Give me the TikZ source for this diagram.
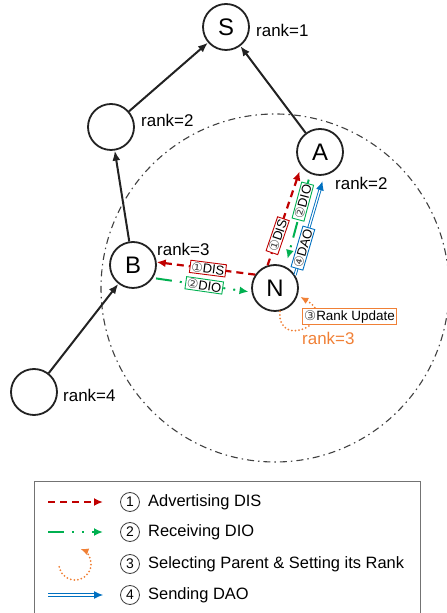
\documentclass[tikz,border=0pt]{standalone}
\usepackage{fontspec}
\setmainfont{Liberation Sans}
\newfontfamily\symfont{DejaVu Sans}
\usetikzlibrary{arrows.meta,calc}

\definecolor{disred}{HTML}{C00000}
\definecolor{diogreen}{HTML}{00B050}
\definecolor{daoblue}{HTML}{0070C0}
\definecolor{updorange}{HTML}{F08036}
\definecolor{ink}{HTML}{222222}

% circled step numbers used inside the message tags
\newcommand{\cnum}[1]{{\symfont\color{black!70}\ifcase#1\or ①\or ②\or ③\or ④\fi}}

\begin{document}
\begin{tikzpicture}[x=1bp,y=1bp,
  rpl/.style={circle,draw=ink,fill=white,line width=1.8bp,minimum size=46bp,inner sep=0pt,font=\fontsize{24}{24}\selectfont},
  ranklab/.style={anchor=west,inner sep=0pt,font=\fontsize{17}{17}\selectfont},
  tree/.style={draw=ink,line width=2bp,-{Latex[length=10bp,width=8bp]}},
  dis/.style={draw=disred,line width=2.2bp,dash pattern=on 7bp off 5bp,-{Latex[length=9bp,width=8bp]}},
  dio/.style={draw=diogreen,line width=2bp,dash pattern=on 16bp off 8bp on 2bp off 8bp on 2bp off 8bp,-{Latex[length=9bp,width=8bp]}},
  dao/.style={draw=daoblue,line width=0.9bp,double=white,double distance=1.3bp,-{Latex[length=9bp,width=8bp]}},
  upd/.style={draw=updorange,line width=2bp,dash pattern=on 0bp off 3.6bp,line cap=round,-{Latex[length=8bp,width=7bp]}},
  tag/.style={draw=#1,fill=white,solid,line width=0.9bp,inner sep=1.3bp,text=black,font=\fontsize{13}{13}\selectfont},
  lnum/.style={circle,draw=black!75,line width=0.8bp,minimum size=19bp,inner sep=0pt,font=\fontsize{14}{14}\selectfont},
  legtext/.style={anchor=west,inner sep=0pt,font=\fontsize{16.5}{16.5}\selectfont},
  rangecirc/.style={draw=black!75,line width=1.1bp,dash pattern=on 7bp off 4bp on 1.5bp off 4bp},
]
\useasboundingbox (0,0) rectangle (447,613);

% radio range of N (drawn first so the nodes sit on top)
\coordinate (Nc) at (275,325);
\draw[rangecirc] (Nc) circle[radius=174];

% ---- nodes of the DODAG ----
\node[rpl] (S) at (226,586) {S};
\node[rpl] (P) at (111,486) {};
\node[rpl] (A) at (320,461) {A};
\node[rpl] (B) at (133,348) {B};
\node[rpl] (N) at (Nc) {N};
\node[rpl] (L) at (34,221) {};

% ---- rank labels ----
\node[ranklab] (rS) at (256,583) {rank=1};
\node[ranklab] (rP) at (141,493) {rank=2};
\node[ranklab] (rA) at (335,429.5) {rank=2};
\node[ranklab] (rB) at (157,363.5) {rank=3};
\node[ranklab] (rL) at (63,218) {rank=4};
\node[ranklab,text=updorange] (rN) at (302,274.5) {rank=3};

% ---- parent links ----
\draw[tree] (L) -- (B);
\draw[tree] (B) -- (P);
\draw[tree] (P) -- (S);
\draw[tree] (A) -- (S);

% ---- control messages ----
\draw[dis] (N.146) -- (B.7);
\path (N.146) -- node[tag=disred,sloped,pos=0.48] (t1) {\cnum{1}DIS} (B.7);
\draw[dio,shorten <=3bp,shorten >=3bp] (B.-33) -- (N.190);
\path (B.-33) -- node[tag=diogreen,sloped,pos=0.52] (t2) {\cnum{2}DIO} (N.190);

\draw[dis,shorten >=5bp] (N.108) -- (A.218);
\path (N.108) -- node[tag=disred,sloped,pos=0.30] (t3) {\cnum{1}DIS} (A.218);
\draw[dio,shorten <=6bp,shorten >=8bp] (A.246) -- (N.64);
\path (A.246) -- node[tag=diogreen,sloped,pos=0.30] (t4) {\cnum{2}DIO} (N.64);
\draw[dao,shorten >=6bp] (N.33) -- (A.-80);
\path (N.33) -- node[tag=daoblue,sloped,pos=0.27] (t5) {\cnum{4}DAO} (A.-80);

% rank update loop on N
\draw[upd,shorten >=3bp] (N.-78) .. controls ($(N.-78)+(-95:40)$) and ($(N.-18)+(-30:50)$) .. (N.-18);
\node[tag=updorange,font=\fontsize{13.5}{13.5}\selectfont] (t6) at (349.5,296.5) {\cnum{3}Rank Update};

% ---- legend ----
\draw[draw=black!55,line width=1bp] (34,0) -- (34,131) -- (420,131) -- (420,0);
\coordinate (a1) at (48,111); \coordinate (b1) at (103,111);
\coordinate (a2) at (48,81);  \coordinate (b2) at (103,81);
\coordinate (a4) at (48,18);  \coordinate (b4) at (103,18);
\draw[dis] (a1) -- (b1);
\draw[dio] (a2) -- (b2);
\draw[upd] (75,49) ++(190:16) arc[start angle=190,end angle=430,radius=16];
\draw[dao] (a4) -- (b4);
\node[lnum] (n1) at (130,111) {1};
\node[lnum] (n2) at (130,81) {2};
\node[lnum] (n3) at (130,49) {3};
\node[lnum] (n4) at (130,18) {4};
\node[legtext] (x1) at (148,111) {Advertising DIS};
\node[legtext] (x2) at (148,81) {Receiving DIO};
\node[legtext] (x3) at (148,49) {Selecting Parent \& Setting its Rank};
\node[legtext] (x4) at (148,18) {Sending DAO};
\end{tikzpicture}
\end{document}
